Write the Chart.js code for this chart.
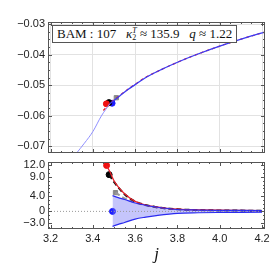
<!DOCTYPE html>
<html>
<head>
<meta charset="utf-8">
<script src="https://cdn.jsdelivr.net/npm/chart.js@4/dist/chart.umd.min.js"></script>
<style>
  body { margin: 0; background: #fff; width: 270px; height: 274px; overflow: hidden; position: relative; }
  #topBox { position: absolute; left: 0; top: 0; width: 270px; height: 158px; }
  #botBox { position: absolute; left: 0; top: 157px; width: 270px; height: 117px; }
  #info {
    position: absolute; left: 52px; top: 25px; height: 16px; padding: 0 4px;
    border: 1px solid #555; background: #fff; white-space: nowrap;
    font-family: "Liberation Serif", "DejaVu Serif", serif; font-size: 13px; line-height: 16px; color: #111;
  }
  #info i { font-style: italic; }
  .stk { display: inline-block; vertical-align: middle; font-size: 8px; line-height: 7px; text-align: left; margin-top: -3px; }
</style>
</head>
<body>
<div id="topBox"><canvas id="topChart"></canvas></div>
<div id="botBox"><canvas id="botChart"></canvas></div>
<div id="info">BAM : 107 &nbsp;&nbsp;<i>κ</i><span class="stk"><i>T</i><br>2</span> ≈ 135.9 &nbsp;&nbsp;<i>q</i> ≈ 1.22</div>
<script>
// shared x range
const xMin = 3.188, xMax = 4.214;
const xTicks = [3.2, 3.4, 3.6, 3.8, 4.0, 4.2];

// top panel: waveform quantity vs j
const yTopTicks = [-0.07, -0.06, -0.05, -0.04, -0.03];
const jLow = [3.32, 3.36, 3.40, 3.44, 3.48];
const blueLow = [-0.0725, -0.0690, -0.0652, -0.0601, -0.0561];
const jBlue = [3.48, 3.527, 3.566, 3.60, 3.645, 3.723, 3.82, 3.90, 4.00, 4.12, 4.214];
const blueTop = [-0.0561, -0.0535, -0.0514, -0.0498, -0.0477, -0.0449, -0.0419, -0.0397, -0.0372, -0.0345, -0.0326];
const jRedTop = [3.45, 3.48, 3.527, 3.566, 3.60, 3.645, 3.723, 3.82, 3.90, 4.00, 4.12, 4.214];
const redTop = [-0.0583, -0.0560, -0.0534, -0.0513, -0.0497, -0.0476, -0.0449, -0.0419, -0.0397, -0.0372, -0.0345, -0.0326];
const topPoints = {
  red: [3.464, -0.0561],
  black: [3.476, -0.0557],
  blue: [3.491, -0.0559],
  gray: [3.511, -0.0541]
};

// bottom panel: relative difference
const yBotTicks = [-3, 0, 4, 9, 12];
const jRed = [3.465, 3.48, 3.50, 3.52, 3.55, 3.60, 3.65, 3.70, 3.75, 3.80, 3.90, 4.00, 4.10, 4.20];
const redVals = [12.0, 10.4, 8.0, 6.4, 4.6, 2.6, 1.65, 1.15, 0.8, 0.6, 0.4, 0.3, 0.25, 0.2];
const jBlack = [3.477, 3.50, 3.55, 3.60, 3.70, 3.80, 3.90, 4.00, 4.10, 4.20];
const blackVals = [9.6, 7.7, 4.5, 2.6, 1.1, 0.55, 0.35, 0.25, 0.2, 0.15];
const jGray = [3.507, 3.55, 3.60, 3.65, 3.70, 3.80];
const grayVals = [4.9, 3.4, 2.3, 1.6, 1.1, 0.55];
const jErr = [3.493, 3.52, 3.55, 3.60, 3.65, 3.70, 3.80, 3.90, 4.00, 4.10, 4.20];
const errUp = [4.1, 3.6, 3.1, 2.2, 1.6, 1.15, 0.5, 0.35, 0.28, 0.24, 0.2];
const errDown = [-3.9, -3.4, -2.9, -2.0, -1.5, -1.1, -0.5, -0.35, -0.28, -0.24, -0.2];
const botPoints = {
  red: [3.465, 12.0],
  black: [3.477, 9.6],
  gray: [3.507, 4.9],
  blue: [3.493, 0]
};

const pairs = (xs, ys) => xs.map((x, i) => ({ x: x, y: ys[i] }));
const minus = s => String(s).replace('-', '\u2212');

// frame with inward ticks, Mathematica style
const framePlugin = {
  id: 'frame',
  afterDraw(chart) {
    const { ctx, chartArea: a, scales } = chart;
    ctx.save();
    ctx.strokeStyle = '#555';
    ctx.lineWidth = 1;
    ctx.strokeRect(a.left + 0.5, a.top + 0.5, a.right - a.left - 1, a.bottom - a.top - 1);
    ctx.beginPath();
    for (let v = 3.2; v <= 4.2001; v += 0.05) {
      const px = Math.round(scales.x.getPixelForValue(v)) + 0.5;
      const major = Math.abs(v * 5 - Math.round(v * 5)) < 1e-6;
      const len = major ? 4 : 2;
      ctx.moveTo(px, a.bottom); ctx.lineTo(px, a.bottom - len);
      ctx.moveTo(px, a.top); ctx.lineTo(px, a.top + len);
    }
    const ys = scales.y;
    const step = chart.options.minorStep;
    for (let v = Math.ceil(ys.min / step) * step; v <= ys.max; v += step) {
      const py = Math.round(ys.getPixelForValue(v)) + 0.5;
      const major = chart.options.majors.some(m => Math.abs(m - v) < step / 10);
      const len = major ? 4 : 2;
      ctx.moveTo(a.left, py); ctx.lineTo(a.left + len, py);
      ctx.moveTo(a.right, py); ctx.lineTo(a.right - len, py);
    }
    ctx.stroke();
    ctx.restore();
  }
};

// stop Chart.js from shrinking the plot area to fit edge labels
const noPad = s => { s.paddingTop = 0; s.paddingBottom = 0; s.paddingLeft = 0; s.paddingRight = 0; };

const tickFont = { family: '"Liberation Sans", Arial, sans-serif', size: 11 };
const smooth = { cubicInterpolationMode: 'monotone', pointRadius: 0 };

function pointSet(p, color, style) {
  return {
    data: [{ x: p[0], y: p[1] }],
    showLine: false,
    pointRadius: 3,
    pointStyle: style || 'circle',
    pointBackgroundColor: color,
    pointBorderColor: color
  };
}

new Chart(document.getElementById('topChart'), {
  type: 'line',
  data: {
    datasets: [
      { ...smooth, data: pairs(jLow, blueLow), borderColor: '#8f8fff', borderWidth: 1 },
      { ...smooth, data: pairs(jBlue, blueTop), borderColor: '#3a3af5', borderWidth: 1.3 },
      { ...smooth, data: pairs(jRedTop, redTop), borderColor: '#e8202a', borderWidth: 1.3, borderDash: [3, 3] },
      pointSet(topPoints.gray, '#888', 'rect'),
      pointSet(topPoints.red, '#f01010'),
      pointSet(topPoints.black, '#000'),
      pointSet(topPoints.blue, '#1a1aff')
    ]
  },
  options: {
    responsive: true,
    maintainAspectRatio: false,
    animation: false,
    minorStep: 0.0025,
    majors: yTopTicks,
    layout: { padding: { top: 22, right: 4, bottom: 1, left: 0 } },
    plugins: { legend: { display: false }, tooltip: { enabled: false } },
    scales: {
      x: {
        type: 'linear', min: xMin, max: xMax,
        afterBuildTicks: s => { s.ticks = xTicks.map(v => ({ value: v })); },
        afterFit: s => { s.height = 0; noPad(s); },
        ticks: { display: false },
        grid: { color: '#e2e2e2', drawTicks: false },
        border: { display: false }
      },
      y: {
        min: -0.0722, max: -0.0293,
        afterBuildTicks: s => { s.ticks = yTopTicks.map(v => ({ value: v })); },
        afterFit: s => { s.width = 48; noPad(s); },
        ticks: { font: tickFont, color: '#222', padding: 3, autoSkip: false, callback: v => minus(v.toFixed(2)) },
        grid: { color: '#e2e2e2', drawTicks: false },
        border: { display: false }
      }
    }
  },
  plugins: [framePlugin]
});

new Chart(document.getElementById('botChart'), {
  type: 'line',
  data: {
    datasets: [
      { data: [{ x: xMin, y: 0 }, { x: xMax, y: 0 }], borderColor: '#999', borderWidth: 1, borderDash: [1, 2], pointRadius: 0 },
      { ...smooth, data: pairs(jErr, errDown), borderColor: '#2b2bf0', borderWidth: 1.2, fill: false },
      { ...smooth, data: pairs(jErr, errUp), borderColor: '#2b2bf0', borderWidth: 1.2, fill: '-1', backgroundColor: 'rgba(110,110,245,0.4)' },
      { ...smooth, data: pairs(jRed, redVals), borderColor: '#e8202a', borderWidth: 1.3 },
      { ...smooth, data: pairs(jBlack, blackVals), borderColor: '#111', borderWidth: 2, borderDash: [5, 3] },
      { ...smooth, data: pairs(jGray, grayVals), borderColor: '#999', borderWidth: 2, borderDash: [5, 3] },
      pointSet(botPoints.red, '#f01010'),
      pointSet(botPoints.black, '#000'),
      pointSet(botPoints.gray, '#888', 'rect'),
      pointSet(botPoints.blue, '#1a1aff')
    ]
  },
  options: {
    responsive: true,
    maintainAspectRatio: false,
    animation: false,
    minorStep: 1,
    majors: yBotTicks,
    layout: { padding: { top: 0, right: 4, bottom: 0, left: 0 } },
    plugins: { legend: { display: false }, tooltip: { enabled: false } },
    scales: {
      x: {
        type: 'linear', min: xMin, max: xMax,
        afterBuildTicks: s => { s.ticks = xTicks.map(v => ({ value: v })); },
        afterFit: s => { s.height = 45; noPad(s); },
        ticks: { font: tickFont, color: '#222', padding: 3, maxRotation: 0, autoSkip: false, callback: v => v.toFixed(1) },
        grid: { display: false, drawTicks: false },
        border: { display: false },
        title: { display: true, text: 'j', padding: { top: 0, bottom: 9 },
                 font: { family: '"Liberation Serif", "DejaVu Serif", serif', size: 17, style: 'italic' }, color: '#111' }
      },
      y: {
        min: -4.6, max: 12.9,
        afterBuildTicks: s => { s.ticks = yBotTicks.map(v => ({ value: v })); },
        afterFit: s => { s.width = 48; noPad(s); },
        ticks: { font: tickFont, color: '#222', padding: 3, autoSkip: false, callback: v => v === 0 ? '0' : minus(v.toFixed(1)) },
        grid: { display: false, drawTicks: false },
        border: { display: false }
      }
    }
  },
  plugins: [framePlugin]
});
</script>
</body>
</html>
